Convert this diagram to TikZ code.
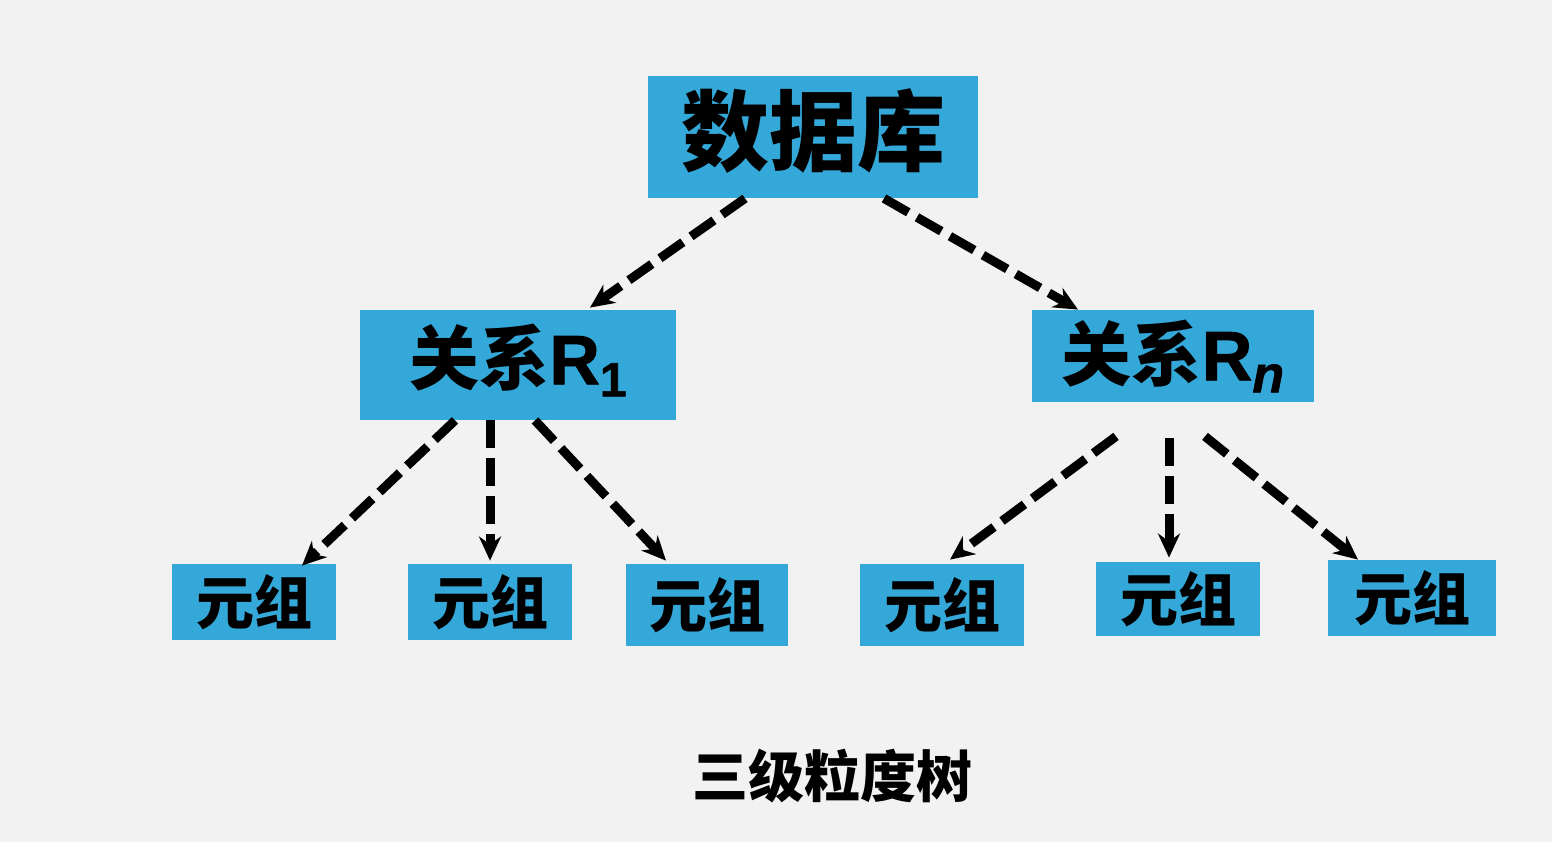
\documentclass[tikz,border=0pt]{standalone}
\usepackage{fontspec}
\setmainfont{Liberation Sans}
\newfontfamily\cjk{Noto Sans CJK SC}
\newfontfamily\lsb{Liberation Sans Bold}[FakeBold=1.2]
\newfontfamily\lsbi{Liberation Sans Bold Italic}[FakeBold=1.2]
\usetikzlibrary{arrows.meta,calc}
\definecolor{bgc}{RGB}{242,242,242}
\definecolor{boxc}{RGB}{52,168,217}
\tikzset{
  box/.style={fill=boxc, inner sep=0pt, text=black, align=center},
  link/.style={line width=4.5pt, dash pattern=on 14pt off 5pt, -{Stealth[length=12pt,width=11pt]}},
}
\newcommand{\zh}[1]{{\cjk\bfseries #1}}
\begin{document}
\begin{tikzpicture}[x=0.5pt,y=-0.5pt]
\fill[bgc] (0,0) rectangle (1552,842);
\useasboundingbox (0,0) rectangle (1552,842);
\node[box, minimum width=165pt, minimum height=61pt] (db) at (813,137) {\raisebox{3pt}[\height][\depth]{\fontsize{44}{44}\selectfont\zh{数据库}}};
\node[box, minimum width=158pt, minimum height=55pt] (r1) at (518,365) {\raisebox{2.5pt}[\height][\depth]{\fontsize{35}{35}\selectfont\zh{关系}{\lsb R}\raisebox{-6pt}{\fontsize{24}{24}\selectfont\lsb 1}}};
\node[box, minimum width=141pt, minimum height=46pt] (rn) at (1173,356) {\fontsize{35}{35}\selectfont\zh{关系}{\lsb R}\raisebox{-6pt}{\fontsize{26}{26}\selectfont\lsbi n}};
\node[box, minimum width=82pt, minimum height=38pt] (t1) at (254,602) {\fontsize{29}{29}\selectfont\zh{元组}};
\node[box, minimum width=82pt, minimum height=38pt] (t2) at (490,602) {\fontsize{29}{29}\selectfont\zh{元组}};
\node[box, minimum width=81pt, minimum height=41pt] (t3) at (707,605) {\fontsize{29}{29}\selectfont\zh{元组}};
\node[box, minimum width=82pt, minimum height=41pt] (t4) at (942,605) {\fontsize{29}{29}\selectfont\zh{元组}};
\node[box, minimum width=82pt, minimum height=37pt] (t5) at (1178,599) {\fontsize{29}{29}\selectfont\zh{元组}};
\node[box, minimum width=84pt, minimum height=38pt] (t6) at (1412,598) {\fontsize{29}{29}\selectfont\zh{元组}};
\node[inner sep=0pt] (cap) at (832,776) {\fontsize{28}{28}\selectfont\zh{三级粒度树}};
\draw[link] ($(db.south)+(-68,0)$) -- ($(r1.north)+(72,-2)$);
\draw[link] ($(db.south)+(71,0)$) -- ($(rn.north)+(-95,0)$);
\draw[link] ($(r1.south)+(-63,0)$) -- ($(t1.north)+(48,2)$);
\draw[link] ($(r1.south)+(-28,0)$) -- ($(t2.north)+(0,-3)$);
\draw[link] ($(r1.south)+(17,0)$) -- ($(t3.north)+(-41,-3)$);
\draw[link] ($(rn.south)+(-57,34)$) -- ($(t4.north)+(8,-4)$);
\draw[link] ($(rn.south)+(-4,36)$) -- ($(t5.north)+(-9,-4)$);
\draw[link] ($(rn.south)+(32,34)$) -- ($(t6.north)+(-54,0)$);
\end{tikzpicture}
\end{document}
